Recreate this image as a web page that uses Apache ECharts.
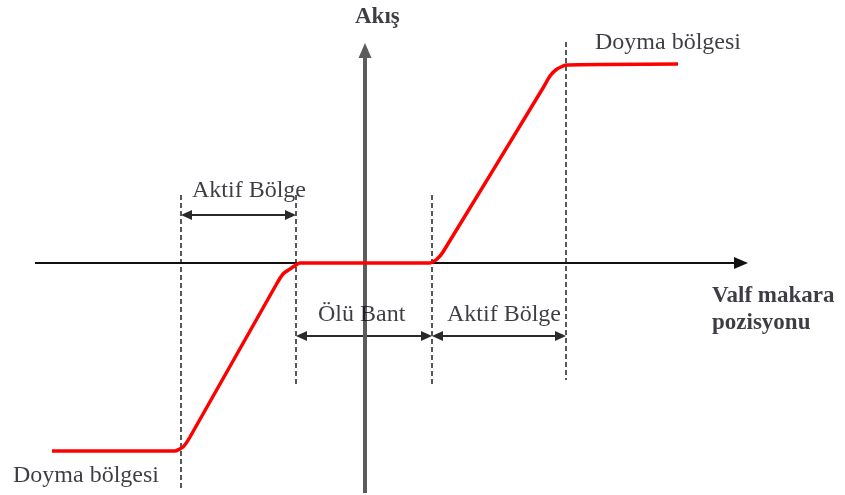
<!DOCTYPE html>
<html>
<head>
<meta charset="utf-8">
<script src="https://cdn.jsdelivr.net/npm/echarts@6/dist/echarts.min.js"></script>
<style>
  html, body { margin: 0; padding: 0; background: #fff; }
  #chart { width: 845px; height: 495px; }
</style>
</head>
<body>
<div id="chart"></div>
<script>
// Valve spool position (x) versus flow (y): saturation, active zone, dead band
const spool = [-31.3, -19.0, -18.2, -17.5, -8.9, -8.2, -7.5, -6.5, 6.5, 7.1, 7.8, 17.8, 18.5, 19.2, 20.1, 31.3];
const flow  = [-18.8, -18.8, -18.4, -17.4, -2.2, -1.1, -0.6, 0.0, 0.0, 0.3, 1.1, 17.5, 18.7, 19.4, 19.8, 19.9];

// Zone boundaries on the spool axis: saturation / active / dead band / active / saturation
const zoneEdges = [-18.4, -6.9, 6.7, 20.1];

// Axis extents (arrow tips)
const xAxisSpan = [-33.0, 38.3];
const yAxisSpan = [-23.0, 22.0];

// Text
const flowTitle = 'Akış';
const spoolTitle = ['Valf makara', 'pozisyonu'];
const zoneNames = { active: 'Aktif Bölge', dead: 'Ölü Bant', sat: 'Doyma bölgesi' };

const serif = 'Liberation Serif, DejaVu Serif, serif';
const ink = '#0c0c14';

const curve = spool.map((x, i) => [x, flow[i]]);

// triangle heads are centred on a line's end, so pull the ends in by half a head
function vline(x, y0, y1, inset) {
  const d = inset || 0;
  return [{ coord: [x, y0] }, { coord: [x, y1 - d] }];
}
function span(x0, x1, y, inset0, inset1) {
  return [{ coord: [x0 + (inset0 || 0), y] }, { coord: [x1 - (inset1 || 0), y] }];
}

const notes = [
  { value: [-1.0, 24.6], text: flowTitle, bold: true },
  { value: [23.0, 22.0], text: zoneNames.sat },
  { value: [-17.3, 7.2], text: zoneNames.active },
  { value: [-4.7, -5.2], text: zoneNames.dead },
  { value: [8.2, -5.2], text: zoneNames.active },
  { value: [-35.2, -21.3], text: zoneNames.sat },
  { value: [34.7, -3.3], text: spoolTitle[0], bold: true },
  { value: [34.7, -6.0], text: spoolTitle[1], bold: true }
];

const chart = echarts.init(document.getElementById('chart'), null, { renderer: 'canvas' });

chart.setOption({
  animation: false,
  backgroundColor: '#ffffff',
  textStyle: { fontFamily: serif },
  grid: { left: 0, right: 0, top: 0, bottom: 0 },
  xAxis: { type: 'value', min: -36.5, max: 48.0, show: false },
  yAxis: { type: 'value', min: -23.2, max: 26.3, show: false },
  series: [
    {
      // dashed zone boundaries
      type: 'line',
      data: [],
      markLine: {
        silent: true,
        symbol: ['none', 'none'],
        label: { show: false },
        lineStyle: { color: '#222', width: 1.5, type: [5, 3] },
        data: [
          vline(zoneEdges[0], 6.8, -22.7),
          vline(zoneEdges[1], 6.8, -12.2),
          vline(zoneEdges[2], 6.8, -12.2),
          vline(zoneEdges[3], 22.1, -11.7)
        ]
      }
    },
    {
      // zone width arrows
      type: 'line',
      data: [],
      markLine: {
        silent: true,
        symbol: ['triangle', 'triangle'],
        symbolSize: [10, 11],
        label: { show: false },
        lineStyle: { color: '#2a2a2a', width: 2, type: 'solid' },
        data: [
          span(zoneEdges[0], zoneEdges[1], 4.8, 0.55, 0.55),
          span(zoneEdges[1], zoneEdges[2], -7.3, 0.55, 0.55),
          span(zoneEdges[2], zoneEdges[3], -7.3, 0.55, 0.55)
        ]
      }
    },
    {
      // spool axis
      type: 'line',
      data: [],
      markLine: {
        silent: true,
        symbol: ['none', 'triangle'],
        symbolSize: [12, 14],
        label: { show: false },
        lineStyle: { color: '#111', width: 2, type: 'solid' },
        data: [span(xAxisSpan[0], xAxisSpan[1], 0, 0, 0.7)]
      }
    },
    {
      // flow axis
      type: 'line',
      data: [],
      markLine: {
        silent: true,
        symbol: ['none', 'triangle'],
        symbolSize: [13, 15],
        label: { show: false },
        lineStyle: { color: '#5c5c5c', width: 4, type: 'solid' },
        data: [vline(0, yAxisSpan[0], yAxisSpan[1], 0.75)]
      }
    },
    {
      // flow characteristic
      type: 'line',
      data: curve,
      showSymbol: false,
      smooth: 0.15,
      lineStyle: { color: '#ff0000', width: 3.5 },
      z: 5
    },
    {
      // annotations
      type: 'scatter',
      symbolSize: 0,
      clip: false,
      silent: true,
      itemStyle: { color: 'transparent' },
      data: notes.map(n => ({
        value: n.value,
        label: {
          show: true,
          position: 'right',
          distance: 0,
          formatter: n.text,
          fontFamily: serif,
          fontSize: n.bold ? 23 : 24,
          fontWeight: n.bold ? 'bold' : 'normal',
          color: ink
        }
      })),
      z: 6
    }
  ]
});
</script>
</body>
</html>
